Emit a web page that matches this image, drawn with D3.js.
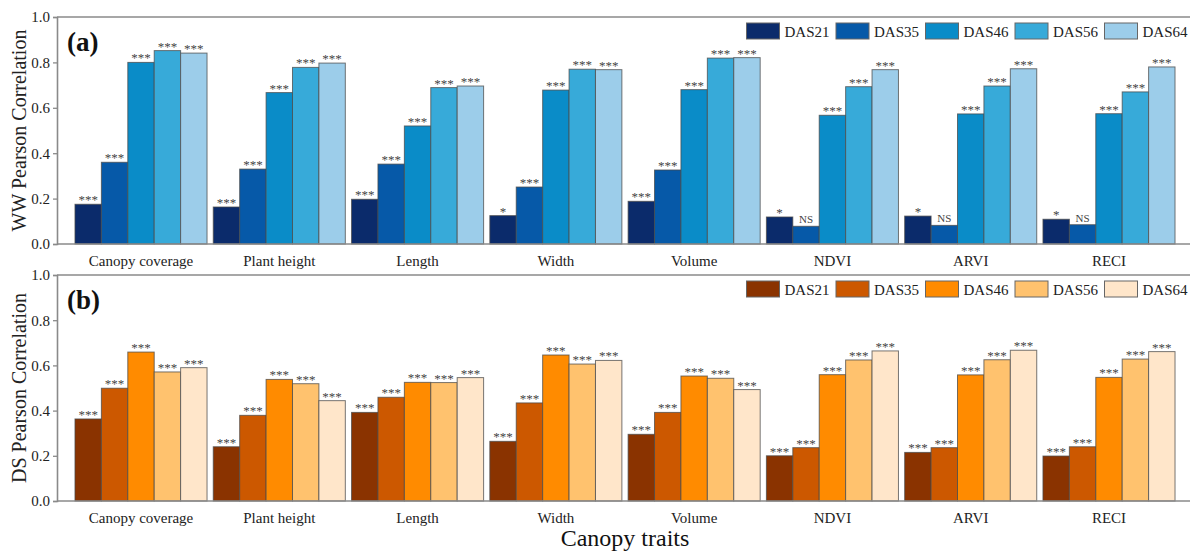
<!DOCTYPE html>
<html>
<head>
<meta charset="utf-8">
<script src="https://cdn.jsdelivr.net/npm/d3@7"></script>
<style>
  html, body { margin: 0; padding: 0; background: #fff; }
  svg { display: block; font-family: "Liberation Serif", "DejaVu Serif", serif; }
</style>
</head>
<body>
<svg id="chart" width="1190" height="551"></svg>
<script>
// Canopy traits on the x axis, sampling dates as series
const traits = ["Canopy coverage", "Plant height", "Length", "Width", "Volume", "NDVI", "ARVI", "RECI"];
const dates = ["DAS21", "DAS35", "DAS46", "DAS56", "DAS64"];
const yTicks = [0.0, 0.2, 0.4, 0.6, 0.8, 1.0];

// Well-watered (WW) correlations, one array per date, ordered as traits
const wwDAS21 = [0.175, 0.163, 0.197, 0.125, 0.188, 0.119, 0.123, 0.109];
const wwDAS35 = [0.360, 0.330, 0.352, 0.251, 0.326, 0.078, 0.082, 0.085];
const wwDAS46 = [0.800, 0.667, 0.520, 0.678, 0.680, 0.567, 0.573, 0.574];
const wwDAS56 = [0.852, 0.778, 0.689, 0.770, 0.819, 0.693, 0.696, 0.670];
const wwDAS64 = [0.841, 0.797, 0.696, 0.768, 0.821, 0.768, 0.772, 0.780];

// Significance marks for WW
const wwSigDAS21 = ["***", "***", "***", "*", "***", "*", "*", "*"];
const wwSigDAS35 = ["***", "***", "***", "***", "***", "NS", "NS", "NS"];
const wwSigDAS46 = ["***", "***", "***", "***", "***", "***", "***", "***"];
const wwSigDAS56 = ["***", "***", "***", "***", "***", "***", "***", "***"];
const wwSigDAS64 = ["***", "***", "***", "***", "***", "***", "***", "***"];

// Drought-stressed (DS) correlations
const dsDAS21 = [0.363, 0.240, 0.392, 0.264, 0.295, 0.200, 0.215, 0.199];
const dsDAS35 = [0.499, 0.379, 0.459, 0.434, 0.392, 0.236, 0.236, 0.240];
const dsDAS46 = [0.659, 0.538, 0.525, 0.646, 0.553, 0.559, 0.558, 0.547];
const dsDAS56 = [0.571, 0.519, 0.524, 0.606, 0.543, 0.624, 0.625, 0.628];
const dsDAS64 = [0.590, 0.444, 0.546, 0.622, 0.493, 0.664, 0.667, 0.661];

const dsSig = ["***", "***", "***", "***", "***", "***", "***", "***"];

const blues = ["#0b2b6b", "#0659a8", "#0a8cc8", "#37aad9", "#9ccdea"];
const oranges = ["#8a3300", "#cc5800", "#ff8b00", "#ffc26e", "#ffe6ca"];

const panels = [
  {
    tag: "(a)", title: "WW Pearson Correlation", top: 17, bottom: 244, colors: blues,
    values: [wwDAS21, wwDAS35, wwDAS46, wwDAS56, wwDAS64],
    sig: [wwSigDAS21, wwSigDAS35, wwSigDAS46, wwSigDAS56, wwSigDAS64]
  },
  {
    tag: "(b)", title: "DS Pearson Correlation", top: 275, bottom: 501, colors: oranges,
    values: [dsDAS21, dsDAS35, dsDAS46, dsDAS56, dsDAS64],
    sig: [dsSig, dsSig, dsSig, dsSig, dsSig]
  }
];

const svg = d3.select("#chart");
const left = 57, right = 1193;

const x0 = d3.scaleBand().domain(traits).range([left, right])
  .paddingInner(0.045).paddingOuter(0.13);
const x1 = d3.scaleBand().domain(dates).range([0, x0.bandwidth()]);

const frameColor = "#8a8a8a";

panels.forEach(p => {
  const y = d3.scaleLinear().domain([0, 1]).range([p.bottom, p.top]);
  const color = d3.scaleOrdinal().domain(dates).range(p.colors);
  const g = svg.append("g");

  // bars
  const rows = [];
  dates.forEach((d, si) => {
    traits.forEach((t, ti) => {
      rows.push({ trait: t, date: d, value: p.values[si][ti], sig: p.sig[si][ti] });
    });
  });

  g.append("g").selectAll("rect").data(rows).join("rect")
    .attr("x", d => x0(d.trait) + x1(d.date))
    .attr("y", d => y(d.value))
    .attr("width", x1.bandwidth())
    .attr("height", d => y(0) - y(d.value))
    .attr("fill", d => color(d.date))
    .attr("stroke", "#4a4a4a")
    .attr("stroke-opacity", 0.75)
    .attr("stroke-width", 1);

  // significance marks
  g.append("g").selectAll("text").data(rows).join("text")
    .attr("x", d => x0(d.trait) + x1(d.date) + x1.bandwidth() / 2)
    .attr("y", d => y(d.value) - (d.sig === "NS" ? 3 : 0))
    .attr("text-anchor", "middle")
    .style("fill", "#444")
    .attr("font-size", d => d.sig === "NS" ? 11 : 13)
    .text(d => d.sig);

  // frame lines: top, left axis, baseline
  g.append("line").attr("x1", left).attr("x2", 1190).attr("y1", p.top).attr("y2", p.top)
    .attr("stroke", frameColor).attr("stroke-width", 1.6);

  const yAxis = d3.axisLeft(y).tickValues(yTicks).tickFormat(d3.format(".1f"))
    .tickSize(4).tickPadding(3);
  const ya = g.append("g").attr("transform", `translate(${left},0)`).call(yAxis);
  ya.select(".domain").attr("stroke", frameColor).attr("stroke-width", 1.6);
  ya.selectAll(".tick line").attr("stroke", frameColor).attr("stroke-width", 1.3);
  ya.selectAll(".tick text").attr("font-family", "Liberation Serif, serif")
    .attr("font-size", 15).attr("fill", "#222");

  const xAxis = d3.axisBottom(x0).tickSize(0).tickPadding(11);
  const xa = g.append("g").attr("transform", `translate(0,${p.bottom})`).call(xAxis);
  xa.select(".domain").attr("d", `M${left},0H1190`)
    .attr("stroke", frameColor).attr("stroke-width", 1.6);
  xa.selectAll(".tick text").attr("font-family", "Liberation Serif, serif")
    .attr("font-size", 15).attr("fill", "#222");

  // panel tag
  g.append("text").attr("x", 67).attr("y", p.top + 34)
    .attr("font-size", 27).attr("font-weight", "bold").attr("fill", "#111")
    .text(p.tag);

  // y axis title
  g.append("text")
    .attr("transform", `translate(26,${(p.top + p.bottom) / 2}) rotate(-90)`)
    .attr("text-anchor", "middle").attr("font-size", 20).attr("fill", "#222")
    .text(p.title);

  // legend
  const lg = g.append("g").selectAll("g").data(dates).join("g")
    .attr("transform", (d, i) => `translate(${746.5 + i * 89.5},${p.top + 6})`);
  lg.append("rect").attr("width", 33).attr("height", 16)
    .attr("fill", d => color(d)).attr("stroke", "#666").attr("stroke-width", 1);
  lg.append("text").attr("x", 38).attr("y", 13.5)
    .attr("font-size", 15).attr("fill", "#222").text(d => d);
});

// shared x axis title
svg.append("text").attr("x", (left + right) / 2).attr("y", 546)
  .attr("text-anchor", "middle").attr("font-size", 24).attr("fill", "#111")
  .text("Canopy traits");
</script>
</body>
</html>
